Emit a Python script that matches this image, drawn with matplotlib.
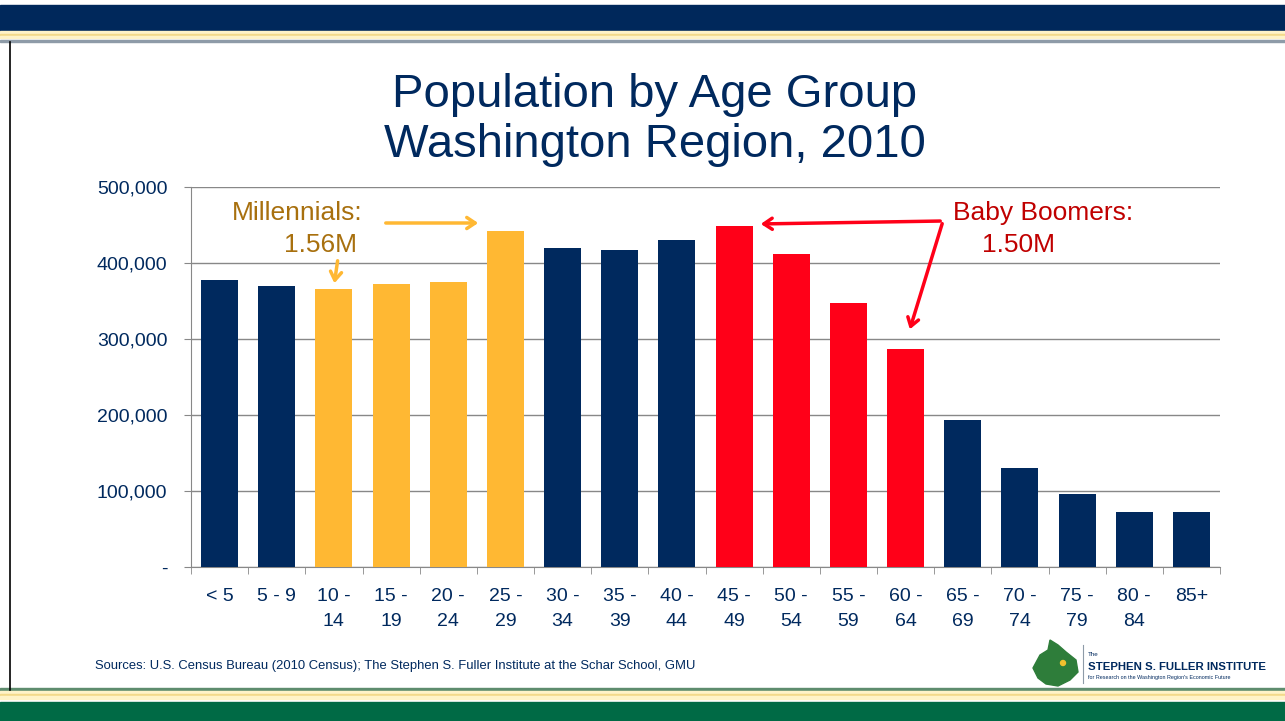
import numpy as np
import matplotlib
matplotlib.use("Agg")
import matplotlib.pyplot as plt
from matplotlib.patches import Rectangle, Polygon, FancyArrowPatch
from matplotlib.ticker import FuncFormatter

plt.rcParams['font.family'] = ['Liberation Sans', 'DejaVu Sans']

# data
age_groups = ['< 5', '5 - 9', '10 -\n14', '15 -\n19', '20 -\n24', '25 -\n29', '30 -\n34',
              '35 -\n39', '40 -\n44', '45 -\n49', '50 -\n54', '55 -\n59', '60 -\n64',
              '65 -\n69', '70 -\n74', '75 -\n79', '80 -\n84', '85+']
population = [378000, 370000, 366000, 373000, 375000, 442000, 420000, 417000, 430000,
              449000, 412000, 347000, 287000, 193000, 130000, 96000, 72000, 73000]
generation = ['other', 'other', 'mill', 'mill', 'mill', 'mill', 'other', 'other', 'other',
              'boom', 'boom', 'boom', 'boom', 'other', 'other', 'other', 'other', 'other']
y_ticks = [0, 100000, 200000, 300000, 400000, 500000]

NAVY = '#00295E'
GOLD = '#FFB833'
RED = '#FF0018'
colors = {'other': NAVY, 'mill': GOLD, 'boom': RED}

W, H = 1285, 721
fig = plt.figure(figsize=(12.85, 7.21), dpi=100)

#%% chart (drawn first, transparent, so the overlay sits on top)
ax = fig.add_axes([191 / W, 1 - 567 / H, (1220 - 191) / W, (567 - 187) / H])
ax.patch.set_alpha(0)
x = np.arange(len(age_groups))
ax.bar(x, population, width=0.65, color=[colors[g] for g in generation], zorder=3)
ax.set_xlim(-0.5, len(age_groups) - 0.5)
ax.set_ylim(0, 500000)
ax.set_yticks(y_ticks)
ax.yaxis.set_major_formatter(FuncFormatter(lambda v, p: '-' if v == 0 else f'{int(v):,}'))
ax.set_xticks(x)
ax.set_xticklabels(age_groups, fontsize=14, color=NAVY, linespacing=1.65)
ax.set_xticks(np.arange(len(age_groups) + 1) - 0.5, minor=True)
ax.tick_params(axis='x', which='major', length=0, pad=15)
ax.tick_params(axis='x', which='minor', length=5, color='#888888')
ax.tick_params(axis='y', labelsize=14, labelcolor=NAVY, length=5, color='#888888', pad=12)
ax.grid(axis='y', color='#888888', lw=1, zorder=0)
for s in ['top', 'right']:
    ax.spines[s].set_visible(False)
ax.spines['left'].set_color('#888888')
ax.spines['bottom'].set_color('#888888')

#%% slide decoration / overlay
bg = fig.add_axes([0, 0, 1, 1], zorder=5)
bg.patch.set_alpha(0)
bg.set_xlim(0, W)
bg.set_ylim(H, 0)
bg.axis('off')
bg.add_patch(Rectangle((0, 5), W, 26, color='#00285B'))
bg.add_patch(Rectangle((0, 31), W, 3, color='#FFF3C8'))
bg.add_patch(Rectangle((0, 34), W, 2, color='#F3D98A'))
bg.add_patch(Rectangle((0, 36), W, 2, color='#FFF3C8'))
bg.add_patch(Rectangle((0, 40), W, 2, color='#8E9BA8'))
bg.plot([10, 10], [42, 690], color='black', lw=1.2)
bg.add_patch(Rectangle((0, 688), W, 2, color='#5E8C6E'))
bg.add_patch(Rectangle((0, 691), W, 3, color='#FFF3C8'))
bg.add_patch(Rectangle((0, 694), W, 2, color='#F3D98A'))
bg.add_patch(Rectangle((0, 696), W, 3, color='#FFF3C8'))
bg.add_patch(Rectangle((0, 702), W, 19, color='#006A45'))

bg.text(655, 95, 'Population by Age Group', ha='center', va='center',
        fontsize=34, color=NAVY)
bg.text(655, 145, 'Washington Region, 2010', ha='center', va='center',
        fontsize=34, color=NAVY)
bg.text(95, 666, 'Sources: U.S. Census Bureau (2010 Census); The Stephen S. Fuller Institute at the Schar School, GMU',
        ha='left', va='center', fontsize=9.4, color=NAVY)

# logo
blob = [(1033, 668), (1040, 655), (1048, 650), (1050, 640), (1058, 645), (1066, 652),
        (1076, 660), (1078, 672), (1070, 680), (1058, 686), (1046, 684), (1038, 678)]
bg.add_patch(Polygon(blob, closed=True, color='#2E7D3A'))
bg.add_patch(plt.Circle((1063, 663), 2.5, color='#F2C12E'))
bg.plot([1083, 1083], [645, 683], color='#8E9BA8', lw=0.8)
bg.text(1088, 655, 'The', fontsize=4.5, color=NAVY, va='center')
bg.text(1088, 667, 'STEPHEN S. FULLER INSTITUTE', fontsize=8.2, color=NAVY,
        va='center', fontweight='bold')
bg.text(1088, 678, "for Research on the Washington Region's Economic Future",
        fontsize=3.9, color=NAVY, va='center')

#%% annotations
bg.text(297, 213, 'Millennials:', ha='center', va='center', fontsize=19, color='#A8700E')
bg.text(320, 245, '1.56M', ha='center', va='center', fontsize=19, color='#A8700E')
bg.text(1043, 213, 'Baby Boomers:', ha='center', va='center', fontsize=19, color='#C00000')
bg.text(1019, 245, '1.50M', ha='center', va='center', fontsize=19, color='#C00000')

def arrow(p0, p1, color):
    bg.add_patch(FancyArrowPatch(p0, p1, arrowstyle='->,head_length=6,head_width=4',
                                 color=color, lw=2.5, zorder=5))

arrow((383, 223), (481, 223), GOLD)
arrow((338, 258), (334, 286), GOLD)
arrow((943, 221), (758, 224), RED)
arrow((943, 221), (909, 332), RED)

fig.savefig('out.png', dpi=100)
